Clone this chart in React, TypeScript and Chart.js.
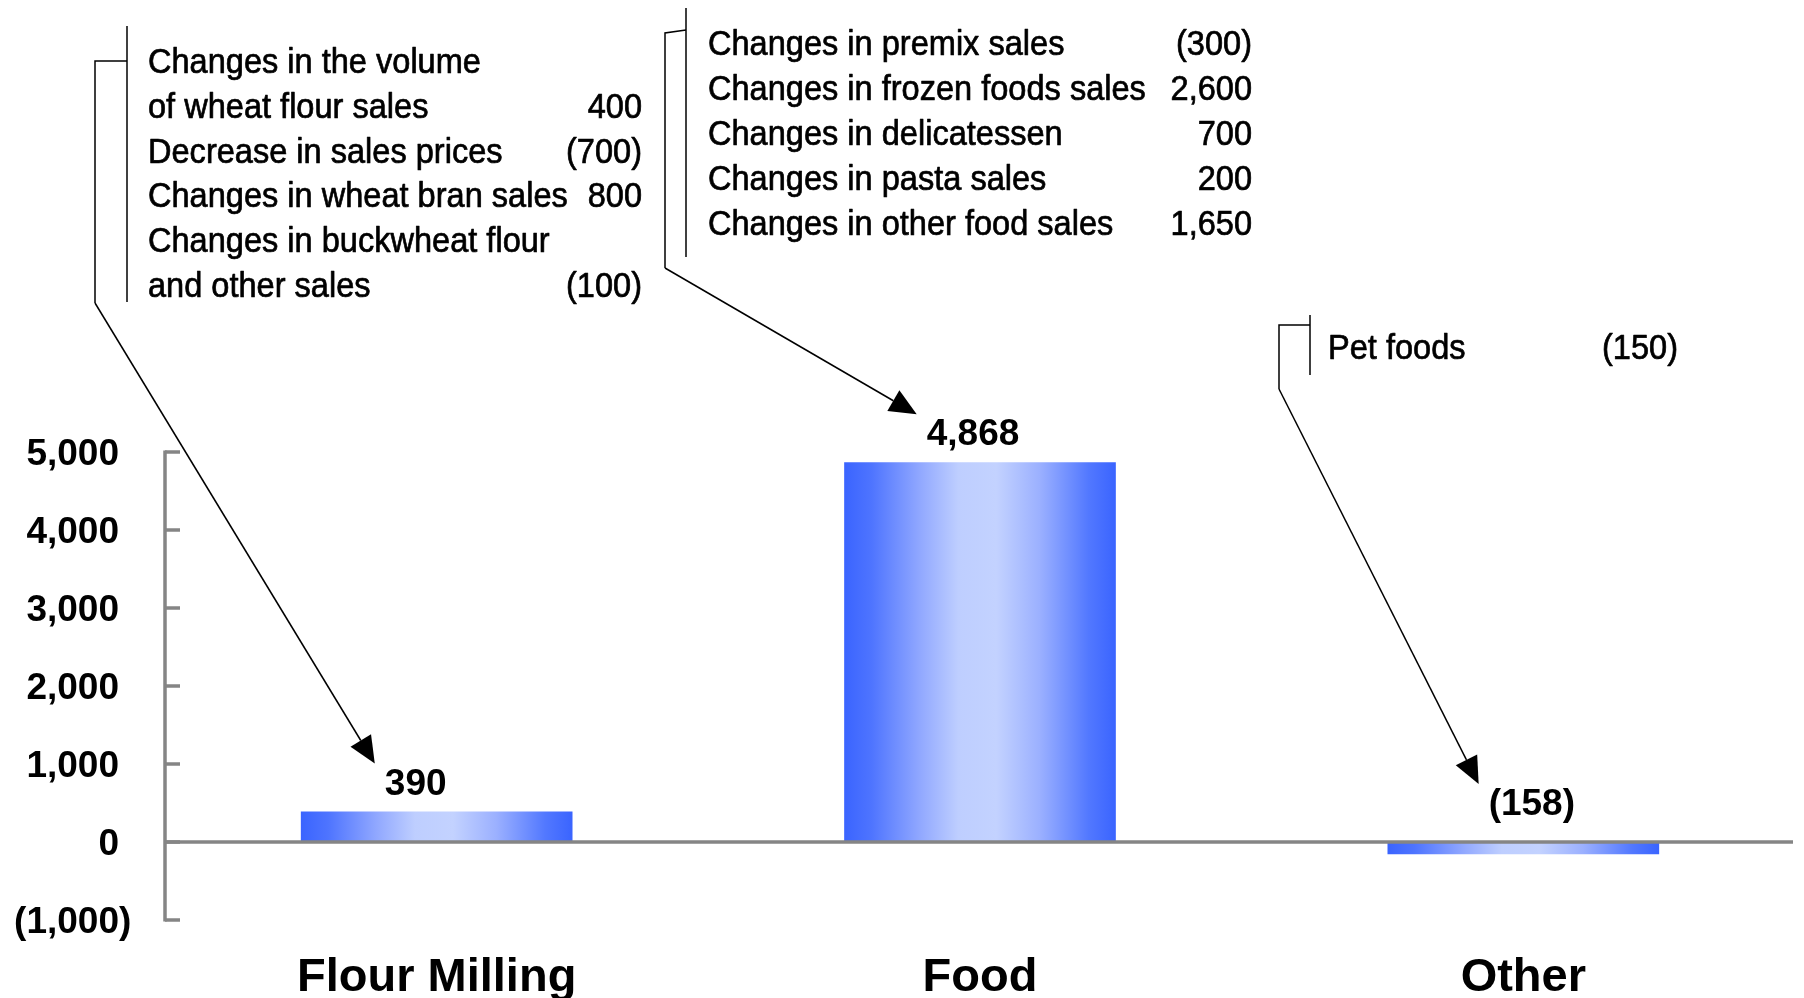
import { useEffect, useRef } from 'react';
import { Chart, registerables } from 'chart.js';

Chart.register(...registerables);

// ---- data ----
const categories = ['Flour Milling', 'Food', 'Other'];
const salesChange = [390, 4868, -158];
const yMin = -1000;
const yMax = 5000;
const yStep = 1000;

// breakdown of each segment's change (null = continuation line without a value)
const flourMillingItems: [string, number | null][] = [
  ['Changes in the volume', null],
  ['of wheat flour sales', 400],
  ['Decrease in sales prices', -700],
  ['Changes in wheat bran sales', 800],
  ['Changes in buckwheat flour', null],
  ['and other sales', -100],
];
const foodItems: [string, number | null][] = [
  ['Changes in premix sales', -300],
  ['Changes in frozen foods sales', 2600],
  ['Changes in delicatessen', 700],
  ['Changes in pasta sales', 200],
  ['Changes in other food sales', 1650],
];
const otherItems: [string, number | null][] = [['Pet foods', -150]];

// ---- styling / layout ----
const FONT = '"Liberation Sans", Arial, Helvetica, sans-serif';
const AXIS_GREY = '#858585';
const NARROW = 0.93;

const calloutLayout = [
  { items: flourMillingItems, textX: 148, numRight: 642, firstBaseline: 73, lineGap: 44.8,
    innerX: 127, innerTop: 26, innerBottom: 302, stubY1: 61, stubY2: 61, outerX: 95, outerBottom: 303 },
  { items: foodItems, textX: 708, numRight: 1252, firstBaseline: 55.3, lineGap: 45,
    innerX: 686, innerTop: 8, innerBottom: 257, stubY1: 33, stubY2: 30, outerX: 665, outerBottom: 268 },
  { items: otherItems, textX: 1328, numRight: 1678, firstBaseline: 359.3, lineGap: 45,
    innerX: 1310, innerTop: 315, innerBottom: 375, stubY1: 325, stubY2: 325, outerX: 1279, outerBottom: 389 },
];

const valueLabelShift = [-21, -7, 8.5];

function fmt(v: number): string {
  const s = String(Math.abs(v)).replace(/\B(?=(\d{3})+(?!\d))/g, ',');
  return v < 0 ? `(${s})` : s;
}

function barGradient(ctx: CanvasRenderingContext2D, left: number, right: number) {
  const g = ctx.createLinearGradient(left, 0, right, 0);
  g.addColorStop(0, 'rgb(58,100,255)');
  g.addColorStop(0.1, 'rgb(78,116,255)');
  g.addColorStop(0.28, 'rgb(145,168,255)');
  g.addColorStop(0.42, 'rgb(190,206,255)');
  g.addColorStop(0.56, 'rgb(195,210,255)');
  g.addColorStop(0.72, 'rgb(155,176,255)');
  g.addColorStop(0.9, 'rgb(82,120,255)');
  g.addColorStop(1, 'rgb(58,100,255)');
  return g;
}

function line(ctx: CanvasRenderingContext2D, x1: number, y1: number, x2: number, y2: number) {
  ctx.beginPath();
  ctx.moveTo(x1, y1);
  ctx.lineTo(x2, y2);
  ctx.stroke();
}

function arrow(ctx: CanvasRenderingContext2D, x1: number, y1: number, x2: number, y2: number) {
  const headLen = 27;
  const headHalf = 12;
  const a = Math.atan2(y2 - y1, x2 - x1);
  const c = Math.cos(a);
  const s = Math.sin(a);
  const bx = x2 - headLen * c;
  const by = y2 - headLen * s;
  line(ctx, x1, y1, bx, by);
  ctx.beginPath();
  ctx.moveTo(x2, y2);
  ctx.lineTo(bx - headHalf * s, by + headHalf * c);
  ctx.lineTo(bx + headHalf * s, by - headHalf * c);
  ctx.closePath();
  ctx.fill();
}

// condensed, slightly heavier callout text
function narrowText(ctx: CanvasRenderingContext2D, text: string, x: number, y: number, align: CanvasTextAlign) {
  ctx.save();
  ctx.translate(x, y);
  ctx.scale(NARROW, 1);
  ctx.textAlign = align;
  ctx.lineWidth = 0.7;
  ctx.lineJoin = 'round';
  ctx.strokeText(text, 0, 0);
  ctx.fillText(text, 0, 0);
  ctx.restore();
}

const overlayPlugin = {
  id: 'overlay',
  afterDatasetsDraw(chart: any) {
    const ctx: CanvasRenderingContext2D = chart.ctx;
    const xs = chart.scales.x;
    const ys = chart.scales.y;
    const area = chart.chartArea;
    const y0 = ys.getPixelForValue(0);

    ctx.save();
    // zero line
    ctx.strokeStyle = AXIS_GREY;
    ctx.lineWidth = 3.5;
    ctx.lineCap = 'butt';
    line(ctx, area.left, y0, area.right - 2, y0);

    // value axis with inward ticks
    const top = ys.getPixelForValue(yMax);
    const bottom = ys.getPixelForValue(yMin);
    line(ctx, area.left, top - 1.5, area.left, bottom + 1.5);
    ctx.fillStyle = '#000';
    ctx.font = `bold 37px ${FONT}`;
    ctx.textBaseline = 'alphabetic';
    ctx.textAlign = 'right';
    const parenW = ctx.measureText(')').width;
    for (let v = yMin; v <= yMax; v += yStep) {
      const ty = ys.getPixelForValue(v);
      line(ctx, area.left, ty, area.left + 15, ty);
      ctx.fillText(fmt(v), 119 + (v < 0 ? parenW : 0), ty + 13.2);
    }

    // category names
    ctx.font = `bold 47px ${FONT}`;
    ctx.textAlign = 'center';
    categories.forEach((name, i) => {
      ctx.fillText(name, xs.getPixelForValue(i), 990.7);
    });

    // value labels and callouts
    const meta = chart.getDatasetMeta(0);
    ctx.font = `bold 37px ${FONT}`;
    const tips: { x: number; y: number }[] = [];
    salesChange.forEach((v, i) => {
      const el = meta.data[i];
      const cx = el.x + valueLabelShift[i];
      const base = v >= 0 ? el.y - 17 : y0 - 27;
      const label = fmt(v);
      ctx.textAlign = 'center';
      ctx.fillText(label, cx, base);
      const w = ctx.measureText(label).width;
      tips.push({ x: cx - w / 2 - 10, y: base - 26 - 5 });
    });

    ctx.strokeStyle = '#000';
    ctx.fillStyle = '#000';
    ctx.lineWidth = 1.5;
    ctx.font = `35px ${FONT}`;
    calloutLayout.forEach((c, i) => {
      ctx.lineWidth = 1.5;
      line(ctx, c.innerX, c.innerTop, c.innerX, c.innerBottom);
      ctx.beginPath();
      ctx.moveTo(c.innerX, c.stubY2);
      ctx.lineTo(c.outerX, c.stubY1);
      ctx.lineTo(c.outerX, c.outerBottom);
      ctx.stroke();
      arrow(ctx, c.outerX, c.outerBottom, tips[i].x, tips[i].y);
      c.items.forEach(([text, val], r) => {
        const by = c.firstBaseline + r * c.lineGap;
        narrowText(ctx, text, c.textX, by, 'left');
        if (val !== null) narrowText(ctx, fmt(val), c.numRight, by, 'right');
      });
    });
    ctx.restore();
  },
};

export default function App() {
  const ref = useRef<HTMLCanvasElement | null>(null);

  useEffect(() => {
    const canvas = ref.current;
    if (!canvas) return;
    const chart = new Chart(canvas, {
      type: 'bar',
      data: {
        labels: categories,
        datasets: [
          {
            data: salesChange,
            barPercentage: 0.5,
            categoryPercentage: 1,
            borderWidth: 0,
            backgroundColor: (c: any) => {
              const ch = c.chart;
              const xs = ch.scales?.x;
              if (c.type !== 'data' || !xs || !ch.chartArea) return 'rgb(58,100,255)';
              const cx = xs.getPixelForValue(c.dataIndex);
              const w = (xs.width / categories.length) * 0.5;
              return barGradient(ch.ctx, cx - w / 2, cx + w / 2);
            },
          },
        ],
      },
      options: {
        responsive: false,
        animation: false,
        devicePixelRatio: 1,
        layout: { padding: { left: 165, right: 9, top: 452, bottom: 78 } },
        plugins: { legend: { display: false }, tooltip: { enabled: false } },
        scales: {
          x: { display: false, grid: { display: false } },
          y: { display: false, min: yMin, max: yMax, grid: { display: false } },
        },
      },
      plugins: [overlayPlugin],
    });
    return () => chart.destroy();
  }, []);

  return (
    <div style={{ position: 'absolute', left: 0, top: 0, width: 1804, height: 998, background: '#fff' }}>
      <canvas ref={ref} width={1804} height={998} style={{ display: 'block' }} />
    </div>
  );
}
